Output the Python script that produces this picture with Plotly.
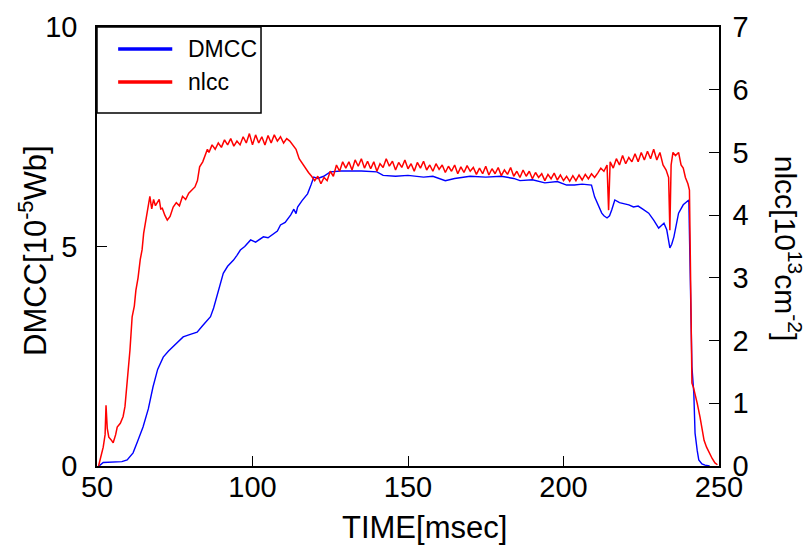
import plotly.graph_objects as go

# ---- data ----
dmcc_t = [50.5, 51, 52, 54.2, 56, 58, 59.7, 60.5, 61.6, 63, 64.8, 66.5, 68, 69.5, 71.3, 73, 75, 77.7,
          80, 82.2, 84, 86.5, 87.5, 88.7, 90.6, 92, 93.9, 95, 96.1, 97.5, 99.4, 101, 103.5, 105, 106.8,
          108, 109, 110.5, 112.3, 113.3, 114, 114.5, 116, 117.7, 118.8, 119.7, 121, 122.9, 125, 128.4,
          135, 140, 142, 146, 150, 155, 158, 162, 165, 170, 175, 180, 184, 186, 190, 194, 198, 201,
          203.5, 206, 209, 210, 212.3, 213, 214, 214.8, 215.5, 216.5, 218, 221, 222.5, 224, 225.5,
          227.4, 229, 230.6, 231.5, 232.3, 233.2, 233.8, 234.2, 234.8, 235.5, 237, 238.5, 240.3,
          240.6, 241.3, 241.9, 242.3, 243, 243.5, 244.5, 245.5, 247]
dmcc_v = [0, 0.02, 0.08, 0.09, 0.1, 0.1, 0.14, 0.2, 0.3, 0.55, 0.89, 1.3, 1.8, 2.2, 2.48, 2.62, 2.75, 2.94,
          3.0, 3.05, 3.2, 3.4, 3.6, 3.93, 4.39, 4.55, 4.69, 4.8, 4.92, 5.0, 5.15, 5.1, 5.22, 5.2, 5.3,
          5.35, 5.49, 5.55, 5.72, 5.85, 5.75, 5.9, 6.05, 6.2, 6.4, 6.58, 6.55, 6.6, 6.7, 6.72,
          6.72, 6.7, 6.62, 6.6, 6.62, 6.58, 6.6, 6.5, 6.55, 6.6, 6.58, 6.6, 6.55, 6.5, 6.52, 6.45, 6.48, 6.4,
          6.4, 6.42, 6.4, 6.13, 5.76, 5.7, 5.65, 5.7, 5.83, 6.06, 6.0, 5.95, 5.9, 5.92, 5.85,
          5.76, 5.6, 5.42, 5.48, 5.53, 5.38, 5.15, 4.97, 5.05, 5.22, 5.76, 5.95, 6.06,
          5.08, 2.26, 1.66, 0.75, 0.35, 0.14, 0.05, 0.02, 0]

nlcc_t = [50.5, 51, 52, 52.6, 52.9, 53.3, 53.8, 54.5, 55.2, 56, 56.5, 57.5, 58.4, 59, 59.7, 60.3, 60.6,
          61.3, 62, 62.5, 63.2, 63.9, 64.5, 65, 65.5, 66, 66.5, 67, 67.6, 68.2, 68.8, 69.4, 70, 70.5, 71,
          71.8, 72.6, 73.5, 74.5, 75.5, 76.5, 77.5, 78.5, 79.5, 80.5, 81.5, 82.3, 83, 84, 85, 85.5,
          86, 87, 88, 89, 90, 91, 92, 93, 94, 95, 96, 97, 98, 99, 100, 101, 102, 103, 104, 105, 106,
          107, 108, 109, 110, 111, 112, 113, 114, 115, 116, 117, 118, 119, 120, 121, 122, 123, 124,
          125, 126, 127, 128, 129, 130,
          131, 132, 133, 134, 135, 136, 137, 138, 139, 140, 141, 142, 143, 144, 145, 146, 147, 148,
          149, 150, 151, 152, 153, 154, 155, 156, 157, 158, 159, 160, 161, 162, 163, 164, 165, 166,
          167, 168, 169, 170, 171, 172, 173, 174, 175, 176, 177, 178, 179, 180, 181, 182, 183, 184,
          185, 186, 187, 188, 189, 190, 191, 192, 193, 194, 195, 196, 197, 198, 199, 200, 201, 202,
          203, 204, 205, 206, 207, 208, 209, 210,
          211, 212, 213, 214, 214.5, 215, 216, 217, 218, 219, 220, 221, 222, 223, 224, 225, 226, 227,
          228, 229, 230, 231, 232, 233, 233.8, 234.2, 234.6, 235.2, 236, 237, 237.8, 238.5, 239.2,
          240, 240.5, 240.7, 241, 241.3, 241.8, 242.3, 243, 243.9, 244.5, 245.2, 246, 246.8, 247.8,
          248.7, 249.5]
nlcc_n = [0, 0.1, 0.3, 0.5, 0.97, 0.6, 0.46, 0.42, 0.37, 0.5, 0.62, 0.68, 0.79, 0.95, 1.32, 1.6, 1.85,
          2.38, 2.55, 2.8, 3.0, 3.29, 3.45, 3.71, 3.85, 4.0, 4.13, 4.3, 4.1, 4.25, 4.15, 4.19, 4.25, 4.1, 4.11,
          4.0, 3.92, 3.98, 4.13, 4.2, 4.15, 4.3, 4.25, 4.35, 4.4, 4.45, 4.55, 4.77, 4.85, 4.99, 5.05,
          5.0, 5.12, 5.05, 5.15, 5.08, 5.2, 5.12, 5.22, 5.1, 5.18, 5.12, 5.25, 5.15, 5.3, 5.12, 5.28, 5.15,
          5.25, 5.12, 5.27, 5.15, 5.28, 5.18, 5.25, 5.15, 5.22, 5.18, 5.12, 5.05, 4.9, 4.82, 4.75, 4.68,
          4.62, 4.55, 4.62, 4.5, 4.6, 4.55, 4.7, 4.62, 4.8, 4.7, 4.85, 4.75,
          4.85, 4.72, 4.88, 4.78, 4.9, 4.75, 4.86, 4.74, 4.85, 4.7, 4.82, 4.76, 4.9, 4.78, 4.86, 4.72,
          4.84, 4.76, 4.88, 4.74, 4.82, 4.7, 4.84, 4.75, 4.86, 4.72, 4.8, 4.7, 4.82, 4.73, 4.8, 4.68,
          4.78, 4.7, 4.8, 4.66, 4.77, 4.68, 4.79, 4.7, 4.76, 4.65, 4.75, 4.66, 4.78, 4.64, 4.74, 4.66,
          4.76, 4.63, 4.72, 4.65, 4.76, 4.62, 4.7, 4.6, 4.72, 4.62, 4.7, 4.58, 4.68, 4.6, 4.66, 4.55,
          4.65, 4.58, 4.67, 4.56, 4.64, 4.55, 4.62, 4.54, 4.63, 4.55, 4.64, 4.56, 4.65, 4.58, 4.66, 4.6,
          4.67, 4.75, 4.7, 4.8, 4.08, 4.85, 4.75, 4.9, 4.8, 4.95, 4.82, 4.92, 4.85, 4.98, 4.85, 5.0, 4.88,
          5.02, 4.9, 5.05, 4.88, 5.0, 4.8, 4.72, 4.6, 3.76, 4.8, 5.0, 4.95, 5.0, 4.8, 4.75, 4.6,
          4.5, 4.4, 3.56, 2.5, 1.32, 1.25, 1.16, 1.0, 0.78, 0.6, 0.41, 0.3, 0.21, 0.12,
          0.05, 0.02]

series_names = ["DMCC", "nlcc"]
x_ticks = [50, 100, 150, 200, 250]
y1_ticks = [0, 5, 10]
y2_ticks = [0, 1, 2, 3, 4, 5, 6, 7]

BLUE = "#0000ff"
RED = "#ff0000"
FONT = "Liberation Sans, Arial, sans-serif"

fig = go.Figure()
fig.add_trace(go.Scatter(x=dmcc_t, y=dmcc_v, mode="lines", name=series_names[0],
                         line=dict(color=BLUE, width=1.4), yaxis="y"))
fig.add_trace(go.Scatter(x=nlcc_t, y=nlcc_n, mode="lines", name=series_names[1],
                         line=dict(color=RED, width=1.5), yaxis="y2"))

axis_common = dict(showgrid=False, zeroline=False, linecolor="black", linewidth=1.5,
                   ticks="inside", tickcolor="black", ticklen=10, tickwidth=1,
                   tickfont=dict(family=FONT, size=29, color="black"))

fig.update_layout(
    width=809, height=545,
    margin=dict(l=97, r=90, t=27, b=79, autoexpand=False),
    paper_bgcolor="white", plot_bgcolor="white",
    showlegend=False,
    xaxis=dict(range=[50, 250], tickvals=x_ticks, mirror=True,
               ticklabelstandoff=-6, **axis_common),
    yaxis=dict(range=[0, 10], tickvals=y1_ticks,
               ticklabelstandoff=12, **axis_common),
    yaxis2=dict(range=[0, 7], tickvals=y2_ticks, overlaying="y", side="right",
                ticklabelstandoff=6, **axis_common),
)

# x axis title
fig.add_annotation(text="TIME[msec]", xref="paper", yref="paper", x=0.526, y=-0.139,
                   xanchor="center", yanchor="middle", showarrow=False,
                   font=dict(family=FONT, size=31, color="black"))

# left axis title (reads bottom-to-top)
fig.add_annotation(text="DMCC[10<sup>-5</sup>Wb]", xref="paper", yref="paper",
                   x=-0.103, y=0.492, xanchor="center", yanchor="middle", showarrow=False, textangle=-90,
                   font=dict(family=FONT, size=31, color="black"))

# right axis title (reads top-to-bottom)
fig.add_annotation(text="nlcc[10<sup>13</sup>cm<sup>-2</sup>]", xref="paper", yref="paper",
                   x=1.111, y=0.497, xanchor="center", yanchor="middle", showarrow=False, textangle=90,
                   font=dict(family=FONT, size=30, color="black"))

# legend box drawn at top-left
fig.add_shape(type="rect", xref="paper", yref="paper", x0=0, x1=0.2637, y0=0.804, y1=1,
              line=dict(color="black", width=1.5), fillcolor="white", layer="above")
legend_rows = [(0.95, BLUE), (0.875, RED)]
for name, (yy, col) in zip(series_names, legend_rows):
    fig.add_shape(type="line", xref="paper", yref="paper", x0=0.034, x1=0.121, y0=yy, y1=yy,
                  line=dict(color=col, width=3.5), layer="above")
    fig.add_annotation(text=name, xref="paper", yref="paper", x=0.143, y=yy, xanchor="left",
                       yanchor="middle", showarrow=False,
                       font=dict(family=FONT, size=23, color="black"))

fig.write_html("out.html")
